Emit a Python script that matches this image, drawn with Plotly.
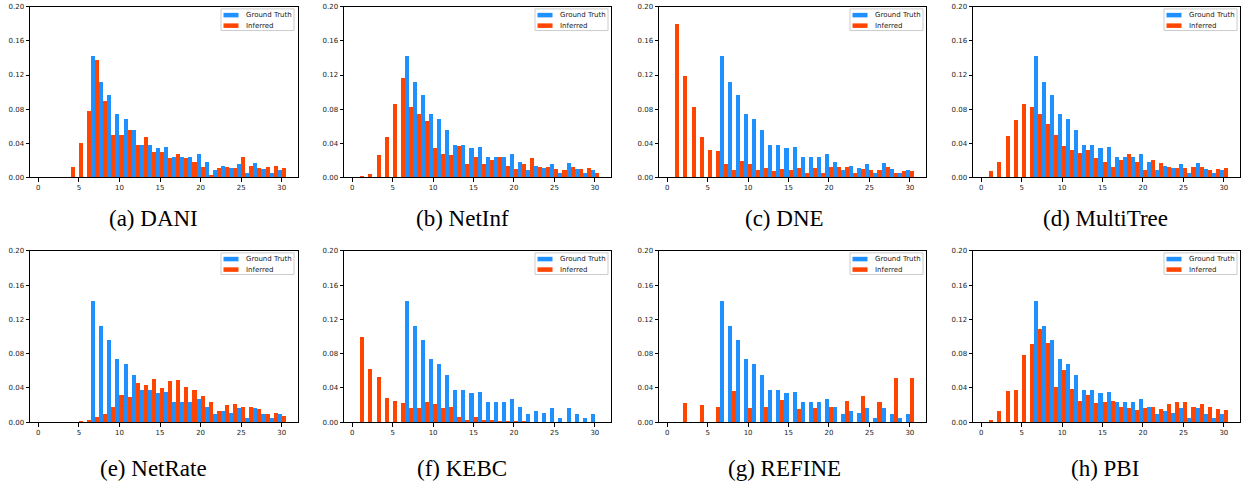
import plotly.graph_objects as go

# In-degree values on the x axis
degrees = list(range(0, 31))
x_ticks = [0, 5, 10, 15, 20, 25, 30]
y_ticks = [0.00, 0.04, 0.08, 0.12, 0.16, 0.20]
y_tick_labels = ["0.00", "0.04", "0.08", "0.12", "0.16", "0.20"]

# Ground-truth degree distribution (shared by every panel)
ground_truth = [0, 0, 0, 0, 0, 0, 0, 0.142, 0.112, 0.096, 0.074, 0.068, 0.055, 0.038,
                0.038, 0.034, 0.035, 0.024, 0.024, 0.024, 0.027, 0.018, 0.009, 0.013,
                0.011, 0.016, 0.005, 0.017, 0.010, 0.005, 0.009]

# Inferred degree distributions, one per method
dani = [0, 0, 0, 0, 0.012, 0.040, 0.078, 0.138, 0.089, 0.050, 0.050, 0.056, 0.038, 0.047,
        0.030, 0.030, 0.023, 0.027, 0.022, 0.018, 0.012, 0.003, 0.011, 0.012, 0.011, 0.024,
        0.013, 0.011, 0.012, 0.013, 0.011]
netinf = [0, 0.001, 0.004, 0.026, 0.047, 0.086, 0.116, 0.082, 0.074, 0.066, 0.034, 0.027,
          0.026, 0.037, 0.015, 0.024, 0.016, 0.020, 0.024, 0.013, 0.010, 0.015, 0.022,
          0.012, 0.012, 0.010, 0.008, 0.012, 0.010, 0.011, 0.005]
dne = [0, 0.180, 0.119, 0.082, 0.047, 0.032, 0.031, 0.015, 0.009, 0.019, 0.015, 0.009,
       0.011, 0.007, 0.010, 0.008, 0.011, 0.005, 0.011, 0.005, 0.012, 0.012, 0.012, 0.005,
       0.010, 0.009, 0.009, 0.012, 0.005, 0.007, 0.007]
multitree = [0, 0.007, 0.018, 0.048, 0.067, 0.086, 0.083, 0.074, 0.062, 0.050, 0.037, 0.032,
             0.029, 0.032, 0.023, 0.018, 0.012, 0.020, 0.027, 0.018, 0.009, 0.020, 0.017,
             0.012, 0.011, 0.011, 0.012, 0.012, 0.009, 0.010, 0.011]
netrate = [0, 0, 0, 0, 0, 0.001, 0.002, 0.006, 0.009, 0.018, 0.032, 0.029, 0.046, 0.044,
           0.051, 0.040, 0.048, 0.049, 0.041, 0.038, 0.031, 0.023, 0.013, 0.020, 0.021,
           0.018, 0.018, 0.015, 0.010, 0.011, 0.007]
kebc = [0, 0.100, 0.062, 0.053, 0.028, 0.025, 0.022, 0.016, 0.017, 0.023, 0.021, 0.017,
        0.018, 0.006, 0.003, 0.006, 0.003, 0.002, 0.001, 0.001, 0.001, 0.001, 0, 0, 0, 0,
        0, 0, 0, 0, 0]
refine = [0, 0, 0.022, 0, 0.020, 0, 0.018, 0, 0.036, 0, 0.016, 0, 0.018, 0, 0.026, 0,
          0.015, 0, 0.017, 0, 0.018, 0, 0.025, 0, 0.030, 0, 0.023, 0, 0.052, 0, 0.052]
pbi = [0, 0.002, 0.013, 0.036, 0.038, 0.078, 0.091, 0.109, 0.093, 0.041, 0.061, 0.039,
       0.025, 0.032, 0.022, 0.024, 0.025, 0.018, 0.017, 0.014, 0.017, 0.018, 0.015, 0.021,
       0.023, 0.024, 0.018, 0.021, 0.018, 0.015, 0.014]

captions = ["(a) DANI", "(b) NetInf", "(c) DNE", "(d) MultiTree",
            "(e) NetRate", "(f) KEBC", "(g) REFINE", "(h) PBI"]
inferred = [dani, netinf, dne, multitree, netrate, kebc, refine, pbi]
series_names = ["Ground Truth", "Inferred"]

BLUE = "#1E90FF"
ORANGE = "#FF4500"
W, H = 1248, 490

# Axes rectangles in pixels: (left, right) per column, (top, bottom) per row
col_px = [(30, 298), (344, 611), (659, 926), (973, 1240)]
row_px = [(3, 176), (251, 425)]
caption_cx = [153, 462, 784, 1105]
caption_cy = [218, 472]

fig = go.Figure()
shapes = []
annotations = []
layout = {}

for i, (cap, inf) in enumerate(zip(captions, inferred)):
    k = i + 1
    r, c = divmod(i, 4)
    xs = "" if k == 1 else str(k)
    xref, yref = f"x{xs}", f"y{xs}"

    # Side-by-side bars: ground truth to the left of each degree, inferred to the right
    fig.add_trace(go.Bar(x=degrees, y=ground_truth, width=0.5, offset=-0.5,
                         marker=dict(color=BLUE, line=dict(width=0)),
                         name=series_names[0], showlegend=False, xaxis=xref, yaxis=yref))
    fig.add_trace(go.Bar(x=degrees, y=inf, width=0.5, offset=0.0,
                         marker=dict(color=ORANGE, line=dict(width=0)),
                         name=series_names[1], showlegend=False, xaxis=xref, yaxis=yref))

    l, rgt = col_px[c]
    t, b = row_px[r]
    axis_common = dict(showline=True, mirror=True, linecolor="black", linewidth=1,
                       ticks="outside", ticklen=3.5, tickwidth=0.8, tickcolor="black",
                       showgrid=False, zeroline=False,
                       tickfont=dict(family="DejaVu Sans", size=7, color="#222"))
    layout[f"xaxis{xs}"] = dict(axis_common, domain=[l / W, rgt / W], anchor=yref,
                                range=[-1.02, 32.0], tickvals=x_ticks)
    layout[f"yaxis{xs}"] = dict(axis_common, domain=[1 - b / H, 1 - t / H], anchor=xref,
                                range=[0, 0.20], tickvals=y_ticks, ticktext=y_tick_labels)

    # Legend box drawn in the axes' own domain coordinates
    axw, axh = rgt - l, b - t
    dx = lambda px: px / axw
    dy = lambda px: 1 - px / axh
    xd, yd = f"{xref} domain", f"{yref} domain"
    shapes.append(dict(type="rect", xref=xd, yref=yd, x0=dx(191), x1=dx(264),
                       y0=dy(24), y1=dy(2), line=dict(color="#cccccc", width=1),
                       fillcolor="rgba(255,255,255,0.8)", layer="above"))
    for j, (colr, name) in enumerate([(BLUE, series_names[0]), (ORANGE, series_names[1])]):
        yc = 8.3 + j * 10.7
        shapes.append(dict(type="rect", xref=xd, yref=yd, x0=dx(193.5), x1=dx(208.5),
                           y0=dy(yc + 2.3), y1=dy(yc - 2.3), line=dict(width=0),
                           fillcolor=colr, layer="above"))
        annotations.append(dict(xref=xd, yref=yd, x=dx(213.5), y=dy(yc), text=name,
                                showarrow=False, xanchor="left", yanchor="middle",
                                font=dict(family="DejaVu Sans", size=7, color="#222")))

    annotations.append(dict(xref="paper", yref="paper", x=caption_cx[c] / W,
                            y=1 - caption_cy[r] / H, text=cap, showarrow=False,
                            xanchor="center", yanchor="middle",
                            font=dict(family="Liberation Serif", size=23, color="black")))

fig.update_layout(width=W, height=H, margin=dict(l=0, r=0, t=0, b=0),
                  paper_bgcolor="white", plot_bgcolor="white", barmode="overlay",
                  bargap=0, shapes=shapes, annotations=annotations, **layout)

fig.write_html("out.html")
